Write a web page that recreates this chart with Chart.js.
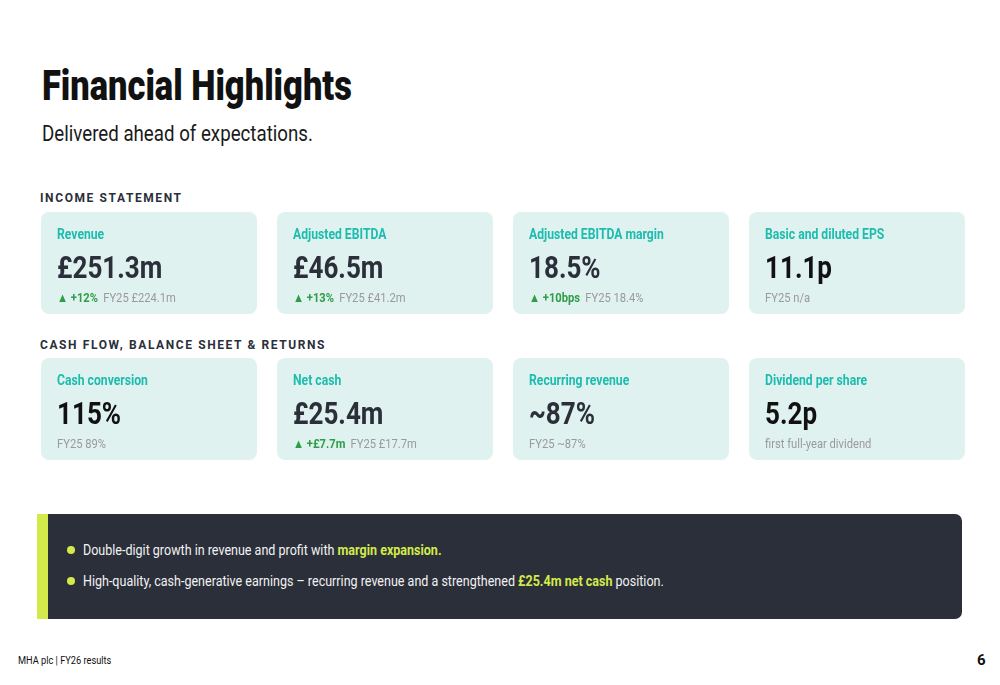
<!DOCTYPE html>
<html>
<head>
<meta charset="utf-8">
<script src="https://cdn.jsdelivr.net/npm/chart.js@4.4.1/dist/chart.umd.min.js"></script>
<style>
  html,body{margin:0;padding:0;background:#fff;}
  body{width:1000px;height:685px;position:relative;overflow:hidden;font-family:"Roboto",sans-serif;color:#2b2f3a;}
  .abs{position:absolute;}
  .cond{transform-origin:0 50%;display:inline-block;}
  #title{left:42px;top:62px;font-size:42px;font-weight:900;color:#111;line-height:48px;white-space:nowrap;transform:scaleX(0.82);transform-origin:0 50%;}
  #subtitle{left:42px;top:120px;font-size:22px;color:#1a1a1a;line-height:28px;white-space:nowrap;transform:scaleX(0.85);transform-origin:0 50%;}
  .section{left:40px;font-size:12px;font-weight:bold;letter-spacing:1.6px;color:#2b2f3a;line-height:14px;white-space:nowrap;}
  .chartbox{position:absolute;left:31px;width:944px;height:102px;}
  .grid{position:absolute;left:41px;width:924px;height:102px;display:grid;grid-template-columns:repeat(4,216px);column-gap:20px;}
  .card{position:relative;height:102px;}
  .lab{position:absolute;left:16px;top:14px;font-size:14px;font-weight:bold;color:#1cbcaf;white-space:nowrap;line-height:17px;transform:scaleX(0.87);transform-origin:0 50%;}
  .val{position:absolute;left:16px;top:38px;font-size:31px;font-weight:bold;white-space:nowrap;line-height:36px;transform:scaleX(0.84);transform-origin:0 50%;}
  .sub{position:absolute;left:16px;top:78px;font-size:13px;color:#9a9a9a;white-space:nowrap;line-height:15px;transform:scaleX(0.86);transform-origin:0 50%;}
  .chg{color:#2e9d49;font-weight:bold;margin-right:6px;}
  #panel{left:37px;top:514px;width:925px;height:105px;background:#2b2f3a;border-radius:0 7px 7px 0;}
  #accent{left:37px;top:514px;width:11px;height:105px;background:#d3ea4a;}
  .dot{width:8px;height:8px;border-radius:50%;background:#d3ea4a;left:67px;}
  .bullet{left:83px;font-size:15px;color:#f2f2f2;white-space:nowrap;line-height:18px;transform:scaleX(0.835);transform-origin:0 50%;}
  .hl{color:#d3ea4a;font-weight:bold;}
  #footer{left:18px;top:654px;font-size:11px;color:#111;white-space:nowrap;line-height:14px;transform:scaleX(0.84);transform-origin:0 50%;}
  #page{left:977px;top:651px;font-size:15px;font-weight:bold;color:#111;}
</style>
</head>
<body>
<script>
// ---- data ----
const incomeLabels = ["Revenue", "Adjusted EBITDA", "Adjusted EBITDA margin", "Basic and diluted EPS"];
const incomeValues = ["£251.3m", "£46.5m", "18.5%", "11.1p"];
const incomeChanges = ["▲ +12%", "▲ +13%", "▲ +10bps", ""];
const incomePrior = ["FY25 £224.1m", "FY25 £41.2m", "FY25 18.4%", "FY25 n/a"];

const cashLabels = ["Cash conversion", "Net cash", "Recurring revenue", "Dividend per share"];
const cashValues = ["115%", "£25.4m", "~87%", "5.2p"];
const cashChanges = ["", "▲ +£7.7m", "", ""];
const cashPrior = ["FY25 89%", "FY25 £17.7m", "FY25 ~87%", "first full-year dividend"];

// every tile is one full cell of its row
const tileFill = [1, 1, 1, 1];

const valueDark = ["#2b2f3a", "#2b2f3a", "#2b2f3a", "#111111"];
const valueDark2 = ["#111111", "#2b2f3a", "#2b2f3a", "#111111"];
</script>

<div id="title" class="abs">Financial Highlights</div>
<div id="subtitle" class="abs">Delivered ahead of expectations.</div>

<div class="abs section" style="top:191px;">INCOME STATEMENT</div>
<div class="chartbox" style="top:212px;"><canvas id="row1" width="944" height="102"></canvas></div>
<div class="grid" id="grid1" style="top:212px;"></div>

<div class="abs section" style="top:338px;">CASH FLOW, BALANCE SHEET &amp; RETURNS</div>
<div class="chartbox" style="top:358px;"><canvas id="row2" width="944" height="102"></canvas></div>
<div class="grid" id="grid2" style="top:358px;"></div>

<div id="panel" class="abs"></div>
<div id="accent" class="abs"></div>
<div class="abs dot" style="top:546px;"></div>
<div class="abs bullet" style="top:541px;">Double-digit growth in revenue and profit with <span class="hl">margin expansion.</span></div>
<div class="abs dot" style="top:577px;"></div>
<div class="abs bullet" style="top:572px;">High-quality, cash-generative earnings – recurring revenue and a strengthened <span class="hl">£25.4m net cash</span> position.</div>

<div id="footer" class="abs">MHA plc | FY26 results</div>
<div id="page" class="abs">6</div>

<script>
function makeRow(canvasId, labels) {
  new Chart(document.getElementById(canvasId), {
    type: 'bar',
    data: {
      labels: labels,
      datasets: [{
        data: tileFill,
        backgroundColor: '#e0f2ef',
        borderRadius: 8,
        borderSkipped: false,
        borderWidth: 0,
        categoryPercentage: 1,
        barPercentage: 216 / 236
      }]
    },
    options: {
      responsive: false,
      animation: false,
      layout: { padding: 0 },
      plugins: { legend: { display: false }, tooltip: { enabled: false } },
      scales: {
        x: { display: false },
        y: { display: false, min: 0, max: 1 }
      }
    }
  });
}
function fillGrid(gridId, labels, values, changes, prior, colors) {
  const g = document.getElementById(gridId);
  labels.forEach((l, i) => {
    const c = document.createElement('div');
    c.className = 'card';
    const sub = (changes[i] ? '<span class="chg">' + changes[i] + '</span>' : '') + prior[i];
    c.innerHTML = '<div class="lab">' + l + '</div>' +
      '<div class="val" style="color:' + colors[i] + '">' + values[i] + '</div>' +
      '<div class="sub">' + sub + '</div>';
    g.appendChild(c);
  });
}
makeRow('row1', incomeLabels);
makeRow('row2', cashLabels);
fillGrid('grid1', incomeLabels, incomeValues, incomeChanges, incomePrior, valueDark);
fillGrid('grid2', cashLabels, cashValues, cashChanges, cashPrior, valueDark2);
</script>
</body>
</html>
